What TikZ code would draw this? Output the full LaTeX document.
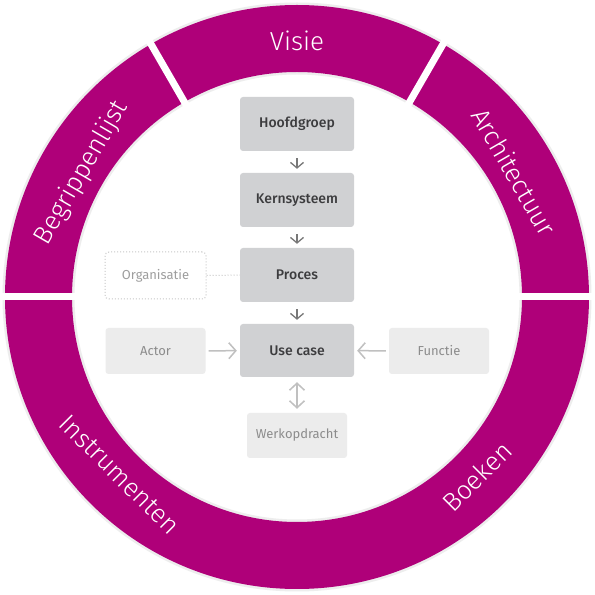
\documentclass[tikz,border=0pt]{standalone}
\usepackage{fontspec}
\setmainfont{Fira Sans}
\newfontfamily\ringfont{Fira Sans Light}
\newfontfamily\semibold{Fira Sans Medium}
\usetikzlibrary{arrows.meta,calc}
\definecolor{ringcol}{RGB}{175,0,121}
\definecolor{boxdark}{RGB}{208,209,211}
\definecolor{boxlight}{RGB}{236,236,236}
\definecolor{txtdark}{RGB}{60,60,62}
\definecolor{txtlight}{RGB}{140,140,140}
\definecolor{arrdark}{RGB}{120,120,120}
\definecolor{arrlight}{RGB}{192,192,192}
\tikzset{
 mainbox/.style={fill=boxdark, rounded corners=3pt, minimum width=114pt, minimum height=54pt, inner sep=0pt, font=\semibold\fontsize{14}{16}\selectfont, text=txtdark},
 sidebox/.style={fill=boxlight, rounded corners=3pt, minimum width=100pt, minimum height=46pt, inner sep=0pt, font=\fontsize{13}{15}\selectfont, text=txtlight},
 dotbox/.style={draw=black!22, dotted, line width=1pt, fill=white, rounded corners=4pt, minimum width=101pt, minimum height=47pt, inner sep=0pt, font=\fontsize{13}{15}\selectfont, text=black!38},
 ringlabel/.style={text=white, font=\ringfont\fontsize{26}{30}\selectfont, inner sep=0pt, text depth=0pt},
 darrow/.style={draw=arrdark, line width=1.3pt, -{Straight Barb[length=5.5pt,width=13pt]}},
 larrow/.style={draw=arrlight, line width=1.5pt, -{Straight Barb[length=7pt,width=16pt]}},
 gapline/.style={draw=white, line width=7pt},
}
\begin{document}
\begin{tikzpicture}[x=1pt,y=1pt]
\useasboundingbox (0,0) rectangle (595,595);
\fill[white] (0,0) rectangle (595,595);
\coordinate (O) at (297,298);
% shadow and ring
\fill[black!7, even odd rule] (O) circle[radius=294.5pt] (O) circle[radius=222.5pt];
\fill[ringcol, even odd rule] (O) circle[radius=292pt] (O) circle[radius=225pt];
% gaps
\draw[gapline] ($(O)+(0:210pt)$) -- ($(O)+(0:305pt)$);
\draw[gapline] ($(O)+(180:210pt)$) -- ($(O)+(180:305pt)$);
\draw[gapline] ($(O)+(60:210pt)$) -- ($(O)+(60:305pt)$);
\draw[gapline] ($(O)+(120:210pt)$) -- ($(O)+(120:305pt)$);
% ring labels
\node[ringlabel] (visie) at ($(O)+(90:256pt)$) {Visie};
\node[ringlabel, rotate=60] (begr) at ($(O)+(150:251pt)$) {Begrippenlijst};
\node[ringlabel, rotate=-60] (arch) at ($(O)+(30:251pt)$) {Architectuur};
\node[ringlabel, rotate=-45] (instr) at ($(O)+(225:251pt)$) {Instrumenten};
\node[ringlabel, rotate=45] (boek) at ($(O)+(-45:254pt)$) {Boeken};
% boxes
\node[mainbox] (hoof) at (297,471) {Hoofdgroep};
\node[mainbox] (kern) at (297,395) {Kernsysteem};
\node[mainbox] (proc) at (297,320) {Proces};
\node[mainbox, minimum height=53pt] (use) at (297,244.5) {Use case};
\node[sidebox, minimum height=45pt] (werk) at (297,159.5) {Werkopdracht};
\node[sidebox] (actor) at (155.5,244) {Actor};
\node[sidebox] (func) at (439,244) {Functie};
\node[dotbox] (org) at (155.5,319.5) {Organisatie};
% connectors
\draw[darrow, shorten <=7pt, shorten >=4pt] (hoof) -- (kern);
\draw[darrow, shorten <=7pt, shorten >=4pt] (kern) -- (proc);
\draw[darrow, shorten <=7pt, shorten >=4pt] (proc) -- (use);
\draw[larrow, shorten <=3pt, shorten >=3pt] (actor) -- (use);
\draw[larrow, shorten <=3pt, shorten >=3pt] (func) -- (use);
\draw[larrow, {Straight Barb[length=7pt,width=15pt]}-{Straight Barb[length=7pt,width=15pt]}, shorten <=5pt, shorten >=4pt] (use) -- (werk);
\draw[draw=black!22, dotted, line width=1pt] (org) -- (proc);
\end{tikzpicture}
\end{document}
